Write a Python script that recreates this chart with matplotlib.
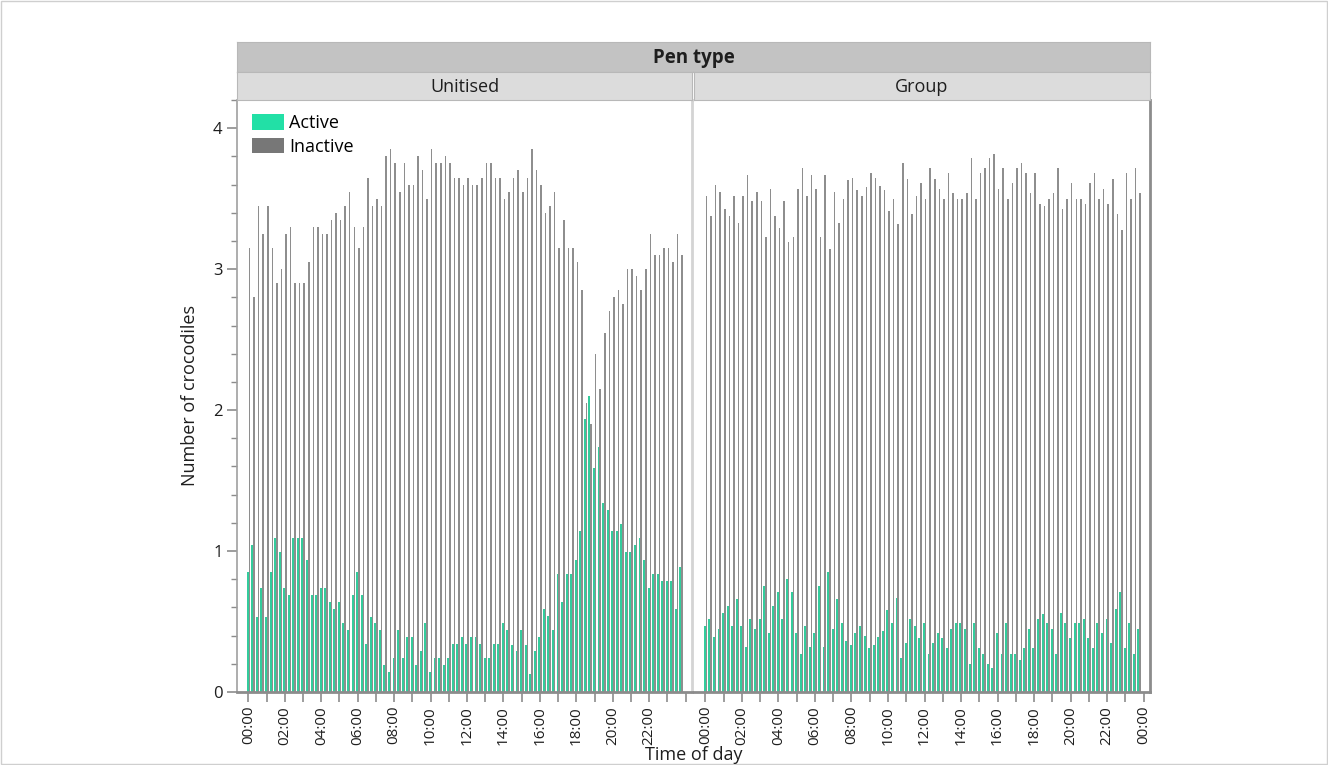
"""Number of active / inactive crocodiles by time of day, unitised vs group pens."""
import numpy as np
import matplotlib
matplotlib.use("Agg")
import matplotlib.pyplot as plt
from matplotlib.patches import Patch, Rectangle

plt.rcParams['font.family'] = ['Open Sans', 'DejaVu Sans']

GREEN = '#33cc9c'
GREEN_KEY = '#22e0a6'
GRAY = '#8e8e8e'
TEXT = '#1e1e1e'

panel_names = ['Unitised', 'Group']

# 15 minute bins, 00:00 .. 23:45
unitised_active = [0.85, 1.04, 0.53, 0.74, 0.53, 0.85, 1.09, 0.99, 0.74, 0.69, 1.09, 1.09,
                   1.09, 0.94, 0.69, 0.69, 0.74, 0.74, 0.64, 0.59, 0.64, 0.49, 0.44, 0.69,
                   0.85, 0.69, 0.34, 0.53, 0.49, 0.44, 0.19, 0.14, 0.24, 0.44, 0.24, 0.39,
                   0.39, 0.19, 0.29, 0.49, 0.14, 0.24, 0.24, 0.19, 0.24, 0.34, 0.34, 0.39,
                   0.34, 0.39, 0.39, 0.34, 0.24, 0.24, 0.34, 0.34, 0.49, 0.44, 0.33, 0.29,
                   0.44, 0.33, 0.13, 0.29, 0.39, 0.59, 0.54, 0.44, 0.84, 0.64, 0.84, 0.84,
                   0.94, 1.14, 1.94, 2.10, 1.59, 1.74, 1.34, 1.29, 1.14, 1.14, 1.19, 0.99,
                   0.99, 1.04, 1.09, 0.94, 0.74, 0.84, 0.84, 0.79, 0.79, 0.79, 0.59, 0.89]
unitised_inactive = [3.15, 2.80, 3.45, 3.25, 3.45, 3.15, 2.90, 3.00, 3.25, 3.30, 2.90, 2.90,
                     2.90, 3.05, 3.30, 3.30, 3.25, 3.25, 3.35, 3.40, 3.35, 3.45, 3.55, 3.30,
                     3.15, 3.30, 3.65, 3.45, 3.50, 3.45, 3.80, 3.85, 3.75, 3.55, 3.75, 3.60,
                     3.60, 3.80, 3.70, 3.50, 3.85, 3.75, 3.75, 3.80, 3.75, 3.65, 3.65, 3.60,
                     3.65, 3.60, 3.60, 3.65, 3.75, 3.75, 3.65, 3.65, 3.50, 3.55, 3.65, 3.70,
                     3.55, 3.65, 3.85, 3.70, 3.60, 3.40, 3.45, 3.55, 3.15, 3.35, 3.15, 3.15,
                     3.05, 2.85, 2.05, 1.90, 2.40, 2.15, 2.55, 2.70, 2.80, 2.85, 2.75, 3.00,
                     3.00, 2.95, 2.85, 3.00, 3.25, 3.10, 3.10, 3.15, 3.15, 3.05, 3.25, 3.10]
group_active = [0.47, 0.52, 0.39, 0.45, 0.56, 0.61, 0.47, 0.66, 0.47, 0.32, 0.52, 0.45,
                0.52, 0.75, 0.42, 0.61, 0.71, 0.52, 0.80, 0.71, 0.42, 0.27, 0.47, 0.32,
                0.42, 0.75, 0.32, 0.85, 0.45, 0.66, 0.49, 0.36, 0.33, 0.42, 0.47, 0.40,
                0.31, 0.33, 0.39, 0.43, 0.58, 0.49, 0.67, 0.24, 0.35, 0.52, 0.47, 0.38,
                0.49, 0.27, 0.35, 0.42, 0.38, 0.31, 0.45, 0.49, 0.49, 0.45, 0.20, 0.49,
                0.31, 0.27, 0.20, 0.17, 0.42, 0.27, 0.49, 0.27, 0.27, 0.23, 0.31, 0.45,
                0.31, 0.52, 0.55, 0.49, 0.45, 0.27, 0.56, 0.49, 0.38, 0.49, 0.49, 0.52,
                0.38, 0.31, 0.49, 0.42, 0.52, 0.35, 0.59, 0.71, 0.31, 0.49, 0.27, 0.45]
group_inactive = [3.52, 3.38, 3.60, 3.55, 3.43, 3.38, 3.52, 3.33, 3.52, 3.67, 3.48, 3.55,
                  3.48, 3.23, 3.57, 3.38, 3.29, 3.48, 3.19, 3.23, 3.57, 3.72, 3.52, 3.67,
                  3.57, 3.23, 3.67, 3.14, 3.55, 3.33, 3.50, 3.63, 3.65, 3.56, 3.52, 3.58,
                  3.68, 3.65, 3.59, 3.56, 3.41, 3.50, 3.32, 3.75, 3.64, 3.39, 3.52, 3.61,
                  3.50, 3.72, 3.64, 3.57, 3.50, 3.68, 3.54, 3.50, 3.50, 3.54, 3.79, 3.50,
                  3.68, 3.72, 3.79, 3.82, 3.57, 3.72, 3.50, 3.61, 3.72, 3.75, 3.68, 3.54,
                  3.68, 3.46, 3.45, 3.50, 3.54, 3.72, 3.43, 3.50, 3.61, 3.50, 3.50, 3.46,
                  3.61, 3.68, 3.50, 3.57, 3.46, 3.64, 3.39, 3.28, 3.68, 3.50, 3.72, 3.54]

hours = list(range(0, 25))
y_ticks = [0, 1, 2, 3, 4]


def hour_labels(show_last):
    labels = []
    for h in hours:
        if h % 2 == 0 and (h < 24 or show_last):
            labels.append("%02d:00" % (h % 24))
        else:
            labels.append("")
    return labels


def draw_panel(ax, active, inactive, show_last):
    x = np.arange(len(active))
    ax.bar(x - 0.12, active, width=0.45, color=GREEN, linewidth=0)
    ax.bar(x + 0.25, inactive, width=0.34, color=GRAY, linewidth=0)
    ax.set_xlim(-2.5, 97.4)
    ax.set_ylim(0, 4.2)
    ax.set_xticks([h * 4 for h in hours])
    ax.set_xticklabels(hour_labels(show_last), rotation=90, fontsize=11, color=TEXT)
    ax.tick_params(axis='x', length=7, width=1.2, color='#8c8c8c', pad=3)
    for s in ['top', 'left', 'right']:
        ax.spines[s].set_visible(False)
    ax.spines['bottom'].set_color('#8c8c8c')
    ax.spines['bottom'].set_linewidth(2)


def strip(rect, label, color, size, bold=False):
    sax = fig.add_axes(rect)
    sax.set_facecolor(color)
    sax.set_xticks([])
    sax.set_yticks([])
    for s in sax.spines.values():
        s.set_color('#b8b8b8')
        s.set_linewidth(0.8)
    sax.text(0.5, 0.47, label, ha='center', va='center', fontsize=size, color=TEXT,
             fontweight='bold' if bold else 'normal', transform=sax.transAxes)


fig = plt.figure(figsize=(13.28, 7.65), dpi=100)
W, H = 1328.0, 765.0
bottom = 1 - 692 / H
top = 1 - 100 / H
lefts = [237 / W, 694 / W]
rights = [692 / W, 1150 / W]

ax1 = fig.add_axes([lefts[0], bottom, rights[0] - lefts[0], top - bottom])
ax2 = fig.add_axes([lefts[1], bottom, rights[1] - lefts[1], top - bottom])

draw_panel(ax1, unitised_active, unitised_inactive, False)
draw_panel(ax2, group_active, group_inactive, True)

ax1.spines['left'].set_visible(True)
ax1.spines['left'].set_color('#a0a0a0')
ax1.spines['left'].set_linewidth(1.2)
ax1.set_yticks(y_ticks)
ax1.set_yticklabels([str(v) for v in y_ticks], fontsize=12, color=TEXT)
ax1.set_yticks(np.arange(0, 4.21, 0.2), minor=True)
ax1.tick_params(axis='y', which='major', length=7, width=1.2, color='#8c8c8c')
ax1.tick_params(axis='y', which='minor', length=4, width=1.0, color='#8c8c8c')
ax1.set_ylabel("Number of crocodiles", fontsize=13, color=TEXT, labelpad=10)
ax1.spines['right'].set_visible(True)
ax1.spines['right'].set_color('#d4d4d4')
ax1.spines['right'].set_linewidth(2)

ax2.set_yticks([])
ax2.spines['right'].set_visible(True)
ax2.spines['right'].set_color('#8c8c8c')
ax2.spines['right'].set_linewidth(2)

handles = [Patch(facecolor=GREEN_KEY, edgecolor='none', label='Active'),
           Patch(facecolor='#777777', edgecolor='none', label='Inactive')]
ax1.legend(handles=handles, loc='upper left', bbox_to_anchor=(0.032, 0.976), frameon=False,
           fontsize=13, handlelength=1.8, handleheight=0.95, handletextpad=0.3,
           labelspacing=0.3, borderpad=0, borderaxespad=0)

# facet header strips
strip([lefts[0], 1 - 72 / H, rights[1] - lefts[0], 30 / H], "Pen type", '#c3c3c3', 13.5,
      bold=True)
for i in range(2):
    strip([lefts[i], top, rights[i] - lefts[i], 28 / H], panel_names[i], '#dcdcdc', 13)

fig.text((237 + 1150) / 2 / W, 1 - 755 / H, "Time of day", ha='center', va='center',
         fontsize=13, color=TEXT)

# thin outer frame
fig.patches.append(Rectangle((0.001, 0.001), 0.998, 0.998, transform=fig.transFigure,
                             fill=False, edgecolor='#cfcfcf', linewidth=1))

fig.savefig("out.png", dpi=100)
